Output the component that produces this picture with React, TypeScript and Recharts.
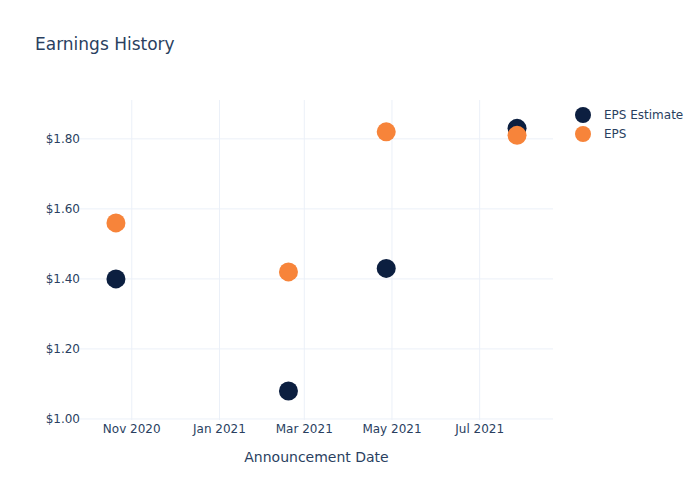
import { ScatterChart, Scatter, XAxis, YAxis, CartesianGrid } from "recharts"

const announceDates = ["2020-10-21", "2021-02-18", "2021-04-27", "2021-07-27"]
const epsEstimate = [1.4, 1.08, 1.43, 1.83]
const epsActual = [1.56, 1.42, 1.82, 1.81]
const xTickDates = ["2020-11-01", "2021-01-01", "2021-03-01", "2021-05-01", "2021-07-01"]
const yTicks = [1.0, 1.2, 1.4, 1.6, 1.8]
const monthNames = ["Jan", "Feb", "Mar", "Apr", "May", "Jun", "Jul", "Aug", "Sep", "Oct", "Nov", "Dec"]

const NAVY = "#0c1f40"
const ORANGE = "#f7843a"
const TEXT = "#2a3f5f"
const GRID = "#ebf0f8"
const FONT = "'DejaVu Sans', sans-serif"

const toTs = (d: string) => Date.parse(d + "T00:00:00Z")

const estimateData = announceDates.map((d, i) => ({ date: toTs(d), value: epsEstimate[i] }))
const actualData = announceDates.map((d, i) => ({ date: toTs(d), value: epsActual[i] }))
const xTicks = xTickDates.map(toTs)

const formatMonth = (ts: number) => {
  const d = new Date(ts)
  return `${monthNames[d.getUTCMonth()]} ${d.getUTCFullYear()}`
}

const dot = (color: string) => (props: any) => (
  <circle cx={props.cx} cy={props.cy} r={9.5} fill={color} />
)

const legendItems = [
  { name: "EPS Estimate", color: NAVY },
  { name: "EPS", color: ORANGE },
]

export default function App() {
  return (
    <div style={{ position: "absolute", left: 0, top: 0, width: 700, height: 500, background: "#fff" }}>
      <div
        style={{
          position: "absolute",
          left: 35,
          top: 34,
          fontFamily: FONT,
          fontSize: 17,
          color: TEXT,
        }}
      >
        Earnings History
      </div>
      {/* legend */}
      <div style={{ position: "absolute", left: 574, top: 105, fontFamily: FONT, fontSize: 12, color: TEXT }}>
        {legendItems.map((it) => (
          <div key={it.name} style={{ display: "flex", alignItems: "center", height: 19 }}>
            <svg width={18} height={18} style={{ marginRight: 12 }}>
              <circle cx={9} cy={9} r={8} fill={it.color} />
            </svg>
            <span>{it.name}</span>
          </div>
        ))}
      </div>
      <ScatterChart width={700} height={500} margin={{ top: 100, right: 147, bottom: 0, left: 0 }}>
        <CartesianGrid stroke={GRID} horizontalValues={yTicks} verticalValues={xTicks} />
        <XAxis
          type="number"
          dataKey="date"
          domain={[toTs("2020-09-26"), toTs("2021-08-21")]}
          ticks={xTicks}
          tickFormatter={formatMonth}
          axisLine={false}
          tickLine={false}
          tickSize={4}
          tickMargin={0}
          height={80}
          tick={{ fill: TEXT, fontSize: 12, fontFamily: FONT }}
          label={{
            value: "Announcement Date",
            position: "insideBottom",
            offset: 38,
            fill: TEXT,
            fontSize: 14,
            fontFamily: FONT,
          }}
        />
        <YAxis
          type="number"
          dataKey="value"
          domain={[0.997, 1.911]}
          ticks={yTicks}
          tickFormatter={(v: number) => `$${v.toFixed(2)}`}
          axisLine={false}
          tickLine={false}
          tickSize={0}
          tickMargin={0}
          width={80}
          allowDataOverflow
          tick={{ fill: TEXT, fontSize: 12, fontFamily: FONT }}
        />
        <Scatter name="EPS Estimate" data={estimateData} fill={NAVY} shape={dot(NAVY)} isAnimationActive={false} />
        <Scatter name="EPS" data={actualData} fill={ORANGE} shape={dot(ORANGE)} isAnimationActive={false} />
      </ScatterChart>
    </div>
  )
}
